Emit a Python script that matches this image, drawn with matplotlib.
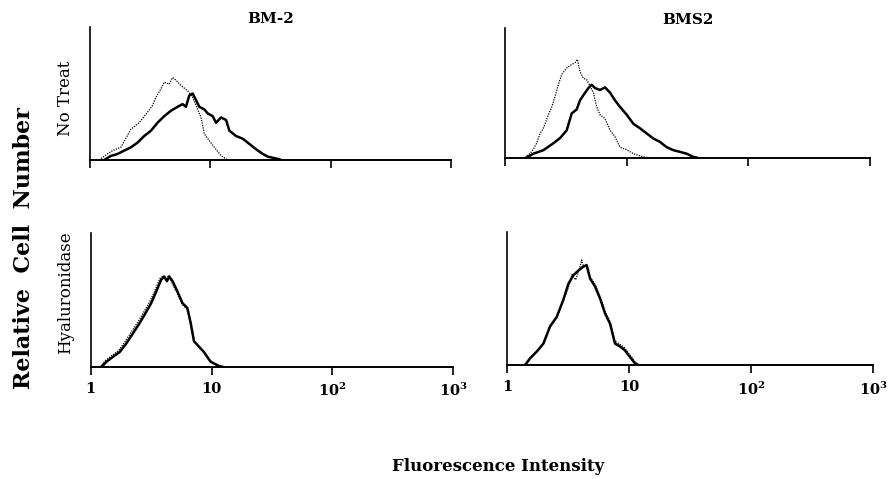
import matplotlib
matplotlib.use("Agg")
import matplotlib.pyplot as plt

# x values are log10(fluorescence), y values are relative cell number (% of axis height)

# BM-2, no treatment
bm2_nt_ctrl_x = [0.075, 0.144, 0.186, 0.256, 0.339, 0.408, 0.478, 0.519, 0.547, 0.589, 0.617, 0.658,
                 0.686, 0.714, 0.756, 0.811, 0.853, 0.881, 0.922, 0.95, 0.99, 1.033, 1.089, 1.144]
bm2_nt_ctrl_y = [0, 4.5, 7, 9.5, 23, 28, 36, 41, 47, 53.5, 58.5, 57,
                 62, 60, 56, 52, 47, 41, 32, 19.6, 14.6, 9.5, 3.3, 0]
bm2_nt_x = [0.117, 0.172, 0.228, 0.283, 0.339, 0.394, 0.45, 0.506, 0.561, 0.617, 0.672, 0.728, 0.769,
            0.797, 0.825, 0.853, 0.881, 0.908, 0.95, 0.978, 1.019, 1.047, 1.089, 1.131, 1.158, 1.214,
            1.269, 1.325, 1.381, 1.436, 1.478, 1.561, 1.589]
bm2_nt_y = [0, 3, 4.5, 7, 9.5, 13, 18, 22, 28, 33, 37, 40, 42,
            40, 48.5, 50, 45, 40, 38, 35, 33, 28, 32, 30, 22, 18,
            16, 12, 8, 4.5, 2.5, 0.8, 0]

# BMS2, no treatment
bms2_nt_ctrl_x = [0.164, 0.219, 0.26, 0.288, 0.315, 0.356, 0.384, 0.411, 0.438, 0.466, 0.507, 0.548,
                  0.575, 0.595, 0.616, 0.644, 0.671, 0.699, 0.726, 0.753, 0.781, 0.822, 0.863, 0.904,
                  0.945, 1.0, 1.055, 1.137, 1.178]
bms2_nt_ctrl_y = [0, 4.4, 11, 18.6, 22.5, 33, 39, 47, 56, 64, 69, 71.6,
                  73, 75.5, 66, 61, 60, 55, 50, 39, 33, 30, 21, 16,
                  8, 6, 3, 0.5, 0]
bms2_nt_x = [0.178, 0.233, 0.315, 0.397, 0.452, 0.507, 0.548, 0.589, 0.616, 0.644, 0.685, 0.712,
             0.74, 0.781, 0.822, 0.863, 0.904, 0.945, 1.0, 1.055, 1.11, 1.164, 1.219, 1.274,
             1.329, 1.384, 1.438, 1.493, 1.548, 1.575]
bms2_nt_y = [0, 3, 5.7, 11, 15, 21, 34, 37, 44, 48, 53.5, 56,
             53.5, 52, 54, 50, 44, 39, 33, 26, 22.5, 18.6, 14.7, 12,
             8, 5.7, 4.4, 3, 0.5, 0]

# BM-2, hyaluronidase
bm2_hy_ctrl_x = [0.08, 0.12, 0.176, 0.23, 0.285, 0.34, 0.394, 0.449, 0.49, 0.531, 0.572, 0.6,
                 0.625, 0.645, 0.672, 0.715, 0.755, 0.797, 0.825, 0.85, 0.892, 0.935, 0.99, 1.06, 1.09]
bm2_hy_ctrl_y = [0, 4.5, 8.5, 12, 19, 26.5, 34, 42.5, 49, 57, 66, 68,
                 65, 68.5, 63, 55, 47, 43, 33, 20, 15.5, 11, 4.5, 0.8, 0]
bm2_hy_x = [0.09, 0.131, 0.186, 0.24, 0.295, 0.35, 0.404, 0.459, 0.5, 0.541, 0.582, 0.609,
            0.631, 0.65, 0.678, 0.719, 0.76, 0.8, 0.828, 0.855, 0.896, 0.937, 0.992, 1.06, 1.087]
bm2_hy_y = [0, 3.75, 7.5, 11, 17.5, 25, 32.5, 41, 47.5, 56, 65, 67.5,
            64, 67.5, 64, 56, 47.5, 44, 32.5, 19, 15, 11, 3.75, 0.5, 0]

# BMS2, hyaluronidase
bms2_hy_ctrl_x = [0.15, 0.19, 0.245, 0.3, 0.355, 0.41, 0.462, 0.5, 0.53, 0.56, 0.59, 0.609,
                  0.625, 0.652, 0.68, 0.722, 0.762, 0.803, 0.845, 0.88, 0.915, 0.96, 1.01, 1.05, 1.08]
bms2_hy_ctrl_y = [0, 5.5, 10.5, 16.5, 29.5, 37, 50, 58, 68, 64, 72, 79,
                  74, 76, 66, 60, 51, 40, 32, 18, 16, 13, 7, 2, 0]
bms2_hy_x = [0.145, 0.186, 0.24, 0.295, 0.35, 0.404, 0.459, 0.5, 0.541, 0.582, 0.623, 0.65,
             0.678, 0.719, 0.76, 0.8, 0.842, 0.883, 0.923, 0.964, 1.005, 1.046, 1.074]
bms2_hy_y = [0, 5, 10, 16, 29, 36, 49, 61, 67.5, 71, 74, 75,
             65, 59, 50, 39, 31, 16, 14, 11, 6, 1.25, 0]

col_titles = ["BM-2", "BMS2"]
row_titles = ["No Treat", "Hyaluronidase"]
tick_vals = [1, 10, 100, 1000]
tick_text = ["1", "10", "$\\mathbf{10^2}$", "$\\mathbf{10^3}$"]

plt.rcParams["font.family"] = "DejaVu Serif"
plt.rcParams["mathtext.fontset"] = "dejavuserif"

fig = plt.figure(figsize=(8.94, 4.79), dpi=100)

# axes boxes in figure fractions [left, bottom, width, height]
boxes = [
    [0.1007, 0.666, 0.4038, 0.2777],
    [0.5649, 0.671, 0.4083, 0.2714],
    [0.1015, 0.2345, 0.4053, 0.2787],
    [0.5675, 0.238, 0.4094, 0.2777],
]
curves = [
    (bm2_nt_ctrl_x, bm2_nt_ctrl_y, bm2_nt_x, bm2_nt_y),
    (bms2_nt_ctrl_x, bms2_nt_ctrl_y, bms2_nt_x, bms2_nt_y),
    (bm2_hy_ctrl_x, bm2_hy_ctrl_y, bm2_hy_x, bm2_hy_y),
    (bms2_hy_ctrl_x, bms2_hy_ctrl_y, bms2_hy_x, bms2_hy_y),
]
# vertical centres (figure fraction) of the row labels
row_label_y = [0.794, 0.39]

for i in range(4):
    ax = fig.add_axes(boxes[i])
    cx, cy, sx, sy = curves[i]
    ax.plot([10 ** v for v in cx], cy, color="black", lw=0.9, ls=(0, (1, 1)))
    ax.plot([10 ** v for v in sx], sy, color="black", lw=1.8)
    ax.set_xscale("log")
    ax.set_xlim(1, 1000)
    ax.set_ylim(0, 100)
    for s in ["top", "right"]:
        ax.spines[s].set_visible(False)
    ax.spines["left"].set_linewidth(1.2)
    ax.spines["bottom"].set_linewidth(1.4)
    ax.set_yticks([])
    ax.set_xticks(tick_vals)
    ax.xaxis.set_minor_locator(matplotlib.ticker.NullLocator())
    ax.tick_params(axis="x", direction="out", length=6, width=1.2, pad=5)
    if i >= 2:
        ax.set_xticklabels(tick_text, fontsize=10.5, fontweight="bold")
    else:
        ax.set_xticklabels([])
        ax.set_title(col_titles[i], fontsize=11, fontweight="bold", pad=2.5)
    if i % 2 == 0:
        fig.text(0.073, row_label_y[i // 2], row_titles[i // 2], rotation=90,
                 fontsize=12, ha="center", va="center")

fig.text(0.027, 0.482, "Relative  Cell  Number", rotation=90, fontsize=16,
         fontweight="bold", ha="center", va="center")
fig.text(0.557, 0.027, "Fluorescence Intensity", fontsize=12, fontweight="bold",
         ha="center", va="center")

fig.savefig("out.png", dpi=100)
